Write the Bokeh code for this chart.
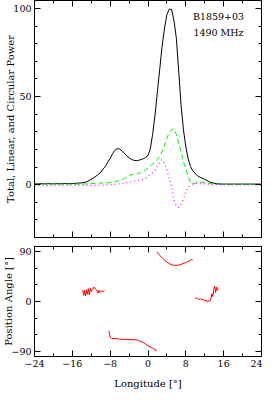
from bokeh.plotting import figure
from bokeh.models import Range1d, FixedTicker, LinearAxis, Label
from bokeh.layouts import column
from bokeh.embed import file_html
from bokeh.resources import INLINE

# ---------------- data ----------------
lon = [-24, -20, -16, -14, -13, -12, -11, -10, -9, -8, -7.5, -7, -6.5, -6, -5.5, -5,
       -4.5, -4, -3.5, -3, -2.5, -2, -1.5, -1, -0.5, 0, 0.5, 1, 1.5, 2, 2.5, 3, 3.5,
       4, 4.5, 5, 5.5, 6, 6.5, 7, 7.5, 8, 8.5, 9, 9.5, 10, 10.5, 11, 12, 13, 14, 15,
       16, 20, 24]
total_I = [0.5, 0.5, 0.6, 1.0, 1.6, 3.0, 4.8, 7.0, 10.5, 15.0, 17.5, 19.5, 20.4, 20.2,
           19.2, 17.8, 16.3, 15.2, 14.3, 13.8, 13.6, 13.8, 14.2, 14.7, 15.5, 16.5, 20.5,
           29.0, 40.0, 53.0, 66.0, 79.0, 89.0, 96.5, 99.6, 99.5, 93.0, 83.0, 64.0, 45.0,
           31.0, 21.5, 14.5, 10.2, 7.8, 6.2, 5.0, 4.2, 3.0, 1.6, 0.7, 0.4, 0.3, 0.3, 0.3]
linear_L = [0.3, 0.3, 0.3, 0.3, 0.4, 0.6, 0.8, 0.9, 1.0, 1.2, 1.4, 1.6, 1.9, 2.3, 2.8,
            3.5, 4.3, 5.2, 5.6, 5.9, 6.1, 6.3, 6.9, 7.6, 8.3, 9.4, 10.7, 11.6, 12.8, 14.3,
            16.0, 19.0, 22.5, 26.5, 29.5, 31.3, 31.5, 28.5, 23.5, 18.5, 13.2, 8.8, 4.6,
            1.4, 0.2, 1.0, 1.6, 1.5, 1.2, 0.7, 0.3, 0.2, 0.2, 0.2, 0.2]
circular_V = [-0.4, -0.4, -0.4, -0.4, -0.4, -0.4, -0.4, -0.3, -0.2, 0.0, 0.1, 0.2, 0.3,
              0.4, 0.6, 0.9, 1.1, 1.3, 1.6, 1.9, 2.1, 2.3, 2.5, 3.0, 3.8, 4.8, 6.0, 6.8,
              8.2, 10.5, 13.0, 14.2, 12.0, 8.2, 3.5, -1.5, -8.5, -12.3, -12.8, -11.0,
              -8.4, -4.0, -1.5, 0.0, 0.5, 0.8, 0.7, 0.6, 0.4, 0.2, 0.0, -0.1, -0.2, -0.2,
              -0.2]

pa_lon_1 = [-13.8, -13.6, -13.4, -13.2, -13.0, -12.8, -12.6, -12.4, -12.2, -12.0, -11.7,
            -11.4, -11.1, -10.8, -10.6, -10.4, -10.1, -9.8, -9.5, -9.2]
pa_1 = [21, 11, 20, 10, 21, 13, 23, 12, 24, 18, 22, 26, 22, 20, 15, 20, 16, 19, 18, 20]

pa_lon_2 = [-8.27, -8.1, -7.9, -7.7, -7.2, -6.5, -6, -5, -4, -3, -2.5, -2, -1.5, -1,
            -0.5, 0, 0.5, 1, 1.5, 1.9]
pa_2 = [-53, -60, -65, -66.5, -67, -66.5, -68, -68, -68.5, -69, -69, -70, -72, -74,
        -77, -79.5, -82, -84, -86.5, -89.5]

pa_lon_3 = [1.9, 2.5, 3.2, 3.8, 4.5, 5.2, 5.9, 6.5, 7.2, 7.8, 8.5, 9.0, 9.3, 9.5]
pa_3 = [89.5, 83, 77, 72, 68, 65.5, 65, 65.5, 67.5, 69.5, 72, 74, 76, 74]

pa_lon_4 = [9.9, 10.2, 10.5, 10.8, 11.1, 11.4, 11.7, 12.0, 12.3, 12.6, 12.9, 13.1, 13.3,
            13.5, 13.7, 13.9, 14.1, 14.3, 14.5, 14.7, 14.9]
pa_4 = [6.5, 5.5, 6.2, 3.5, 4.5, 2.5, 4.0, 1.0, 2.5, -1.0, 1.5, 0.5, 5.0, 14.0, 9.0,
        21.0, 28.0, 16.0, 26.0, 20.0, 23.0]

x_ticks = [-24, -16, -8, 0, 8, 16, 24]
x_tick_labels = ["\u221224", "\u221216", "\u22128", "0", "8", "16", "24"]
x_minor = [-20, -12, -4, 4, 12, 20]
power_ticks = [0, 50, 100]
power_tick_labels = ["0", "50", "100"]
power_minor = [-20, -10, 10, 20, 30, 40, 60, 70, 80, 90]
pa_ticks = [-90, 0, 90]
pa_tick_labels = ["\u221290", "0", "90"]
pa_minor = [-60, -30, 30, 60]

pulsar_name = "B1859+03"
frequency = "1490 MHz"

# ---------------- style ----------------
FONT = "DejaVu Serif"


def make_axis(ticker_vals, minor_vals, labels_vals=None, labels=None, axis_label=None):
    ax = LinearAxis(ticker=FixedTicker(ticks=ticker_vals, minor_ticks=minor_vals))
    ax.axis_line_color = "black"
    ax.major_tick_line_color = "black"
    ax.minor_tick_line_color = "black"
    ax.major_tick_in = 6
    ax.major_tick_out = 0
    ax.minor_tick_in = 3
    ax.minor_tick_out = 0
    if labels is None:
        ax.major_label_overrides = {v: "" for v in ticker_vals}
        ax.major_label_text_font_size = "1px"
        ax.major_label_standoff = 0
    else:
        ax.major_label_overrides = {v: t for v, t in zip(labels_vals, labels)}
        ax.major_label_text_font = FONT
        ax.major_label_text_font_size = "9.5px"
        ax.major_label_text_color = "black"
        ax.major_label_standoff = 3
    if axis_label is not None:
        ax.axis_label = axis_label
        ax.axis_label_text_font = FONT
        ax.axis_label_text_font_size = "10px"
        ax.axis_label_text_font_style = "normal"
        ax.axis_label_text_color = "black"
    return ax


def base_fig(height, y0, y1, mb_top, mb_bottom):
    f = figure(width=262, height=height, x_range=Range1d(-24, 24),
               y_range=Range1d(y0, y1), output_backend="svg", toolbar_location=None,
               x_axis_location=None, y_axis_location=None,
               min_border_left=28, min_border_right=1,
               min_border_top=mb_top, min_border_bottom=mb_bottom)
    f.xgrid.visible = False
    f.ygrid.visible = False
    f.outline_line_color = "black"
    f.outline_line_width = 1
    f.background_fill_color = "white"
    f.border_fill_color = "white"
    return f


# ---------------- top panel ----------------
p1 = base_fig(241, -30, 104.5, 0, 4)
la = make_axis(power_ticks, power_minor, power_ticks, power_tick_labels,
               "Total, Linear, and Circular Power")
la.axis_label_standoff = -6
p1.add_layout(la, "left")
p1.add_layout(make_axis(power_ticks, power_minor), "right")
p1.add_layout(make_axis(x_ticks, x_minor), "below")
p1.add_layout(make_axis(x_ticks, x_minor), "above")

p1.line(lon, total_I, line_color="black", line_width=1)
p1.line(lon, linear_L, line_color="#00ee00", line_width=1, line_dash="5 3")
p1.line(lon, circular_V, line_color="#ff00ff", line_width=1.2, line_dash="1 3")

p1.add_layout(Label(x=9.5, y=92.5, text=pulsar_name, text_font=FONT,
                    text_font_size="9.5px", text_color="black"))
p1.add_layout(Label(x=9.6, y=83.5, text=frequency, text_font=FONT,
                    text_font_size="9.5px", text_color="black"))

# ---------------- bottom panel ----------------
p2 = base_fig(150, -99, 99, 5, 1)
lb = make_axis(pa_ticks, pa_minor, pa_ticks, pa_tick_labels, "Position Angle [\u00b0]")
lb.axis_label_standoff = -6
p2.add_layout(lb, "left")
p2.add_layout(make_axis(pa_ticks, pa_minor), "right")
bx = make_axis(x_ticks, x_minor, x_ticks, x_tick_labels, "Longitude [\u00b0]")
bx.axis_label_standoff = 8
p2.add_layout(bx, "below")
p2.add_layout(make_axis(x_ticks, x_minor), "above")

for xs, ys in [(pa_lon_1, pa_1), (pa_lon_2, pa_2), (pa_lon_3, pa_3), (pa_lon_4, pa_4)]:
    p2.line(xs, ys, line_color="red", line_width=1)

layout = column(p1, p2, spacing=0)

open("out.html", "w").write(file_html(layout, INLINE))
